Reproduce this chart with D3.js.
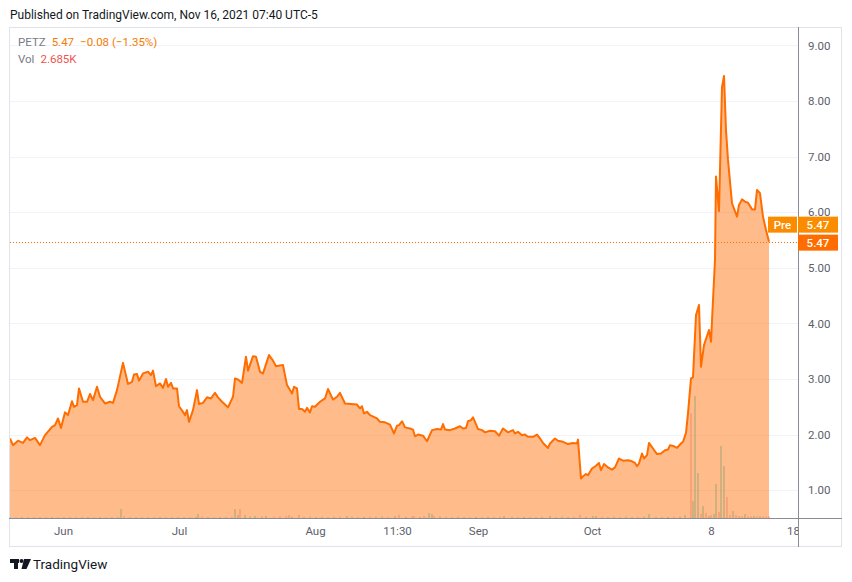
<!DOCTYPE html>
<html>
<head>
<meta charset="utf-8">
<script src="https://cdn.jsdelivr.net/npm/d3@7"></script>
<style>
  html, body { margin: 0; padding: 0; background: #fff; }
  svg { display: block; font-family: Roboto, "Noto Sans", sans-serif; }
</style>
</head>
<body>
<svg width="852" height="582"></svg>
<script>
// bar position (TradingView compresses gaps, so x is a bar index) and close price
const priceIdx = [
  0, 1.5, 4, 6.5, 8.5, 10, 12.5, 15, 17.5, 21,
  22.5, 24, 25.5, 27.5, 29, 31, 32, 33.5, 34.5, 36.5,
  38.5, 40, 41.5, 43.5, 45, 47.5, 50, 51.5, 53.5, 56.5,
  59, 61, 62, 63.5, 64.5, 66.5, 69, 70.5, 71.5, 73,
  75, 76.5, 78, 79, 80.5, 81.5, 83.5, 84.5, 86.5, 87.5,
  88.5, 89.5, 91.5, 93.5, 94.5, 96.5, 98.5, 100.5, 102.5, 104,
  106, 109, 111.5, 112.5, 114, 116, 118, 119, 121.5, 123,
  125, 126.5, 129.5, 131.5, 133, 136.5, 138.5, 140, 141, 142,
  143.5, 144.5, 146, 147.5, 148.5, 150, 151, 152.5, 155, 157.5,
  159, 161.5, 163.5, 165, 167.5, 173.5, 175, 176, 177, 178.5,
  180, 183.5, 185, 187.5, 190, 192, 193.5, 194.5, 196, 197.5,
  200, 201.5, 202.5, 204, 206.5, 208.5, 211, 213.5, 215.5, 216.5,
  217.5, 220, 222.5, 225, 226.5, 228, 229, 230.5, 231.5, 232.5,
  234, 236, 237.5, 240, 242.5, 244.5, 246.5, 249, 251.5, 252.5,
  254, 256, 257.5, 259, 261.5, 263.5, 265, 266.5, 269, 270,
  272.5, 274, 276.5, 279, 281.5, 283.5, 284, 285.5, 286.5, 288,
  289, 291, 293, 294.5, 295.5, 297, 299, 301, 302.5, 304.5,
  306.5, 309, 311, 312.5, 313.5, 314.5, 316, 317, 318.5, 319.5,
  321.5, 323.5, 325.5, 327.5, 329, 330, 332, 333.5, 335.5, 336.5,
  338, 339, 340.5, 341.5, 343, 344.5, 345.5, 347, 349.5, 350.5,
  351.5, 352.5, 353, 354.5, 356, 357, 358, 359, 361, 363.5,
  364.5, 366, 367.5, 369, 371, 372.5, 373.5, 375, 376.5, 378,
  379.5
];
const prices = [
  1.93, 1.81, 1.89, 1.85, 1.95, 1.90, 1.94, 1.81, 1.99, 2.14,
  2.17, 2.29, 2.12, 2.40, 2.35, 2.60, 2.50, 2.53, 2.83, 2.59,
  2.59, 2.73, 2.62, 2.86, 2.68, 2.56, 2.59, 2.57, 2.80, 3.29,
  2.91, 2.95, 3.08, 3.09, 2.97, 3.10, 3.13, 3.07, 3.15, 2.87,
  2.92, 2.84, 3.00, 2.86, 2.93, 2.83, 2.83, 2.51, 2.41, 2.35,
  2.44, 2.23, 2.44, 2.80, 2.55, 2.57, 2.67, 2.65, 2.75, 2.67,
  2.59, 2.49, 2.68, 3.01, 2.99, 2.93, 3.40, 3.15, 3.41, 3.40,
  3.13, 3.10, 3.43, 3.33, 3.23, 3.25, 2.89, 2.80, 2.74, 2.86,
  2.83, 2.46, 2.46, 2.41, 2.48, 2.40, 2.51, 2.50, 2.59, 2.65,
  2.82, 2.63, 2.68, 2.75, 2.56, 2.54, 2.47, 2.51, 2.38, 2.41,
  2.35, 2.29, 2.23, 2.22, 2.18, 2.02, 2.16, 2.17, 2.24, 2.13,
  2.11, 2.09, 1.97, 2.00, 1.98, 1.88, 2.08, 2.10, 2.09, 2.19,
  2.09, 2.08, 2.11, 2.15, 2.11, 2.12, 2.24, 2.26, 2.31, 2.23,
  2.10, 2.08, 2.04, 2.07, 2.06, 1.98, 2.11, 2.04, 2.08, 2.02,
  2.05, 1.99, 2.00, 1.96, 1.96, 2.00, 1.93, 1.85, 1.76, 1.84,
  1.93, 1.89, 1.87, 1.83, 1.85, 1.84, 1.91, 1.21, 1.25, 1.29,
  1.27, 1.39, 1.44, 1.49, 1.36, 1.47, 1.41, 1.37, 1.41, 1.57,
  1.53, 1.54, 1.52, 1.49, 1.43, 1.48, 1.66, 1.57, 1.63, 1.85,
  1.75, 1.65, 1.66, 1.72, 1.73, 1.81, 1.79, 1.76, 1.84, 1.87,
  2.03, 2.38, 3.01, 3.03, 4.15, 4.33, 3.22, 3.61, 3.88, 3.67,
  4.42, 5.14, 6.64, 6.02, 8.25, 8.45, 7.47, 6.94, 6.16, 5.92,
  6.13, 6.23, 6.19, 6.17, 6.05, 6.05, 6.40, 6.34, 5.92, 5.68,
  5.47
];

// volume bars (millions), u = up bar, d = down bar
const volIdx = [
  0, 3, 6, 9, 12, 15, 18, 21, 24, 27,
  30, 33, 36, 39, 42, 45, 48, 51, 54, 55.5,
  57, 60, 63, 66, 69, 72, 75, 78, 81, 84,
  87, 90, 93, 94, 96, 99, 102, 105, 108, 111,
  112.5, 114, 115, 117.5, 120, 122.5, 126, 128, 132, 135,
  138, 139.5, 141, 144.5, 147, 150, 153, 156, 159, 162,
  165, 168.5, 171, 174, 177, 180, 183, 186, 189, 192.5,
  194.5, 198, 201, 202, 205, 207, 209.5, 211, 212, 215,
  218, 221, 224, 227, 230, 233, 236, 239, 242, 245,
  247, 251, 254, 257, 260, 263, 266, 270, 273, 276,
  279, 282, 285, 288, 291.5, 293, 296, 299, 302, 305,
  308, 311, 314, 317, 319.5, 323, 326, 329, 332, 335,
  337.5, 340.5, 341.5, 342.5, 344, 345.5, 346.5, 348, 349.5, 350.5,
  352, 353, 354.5, 355.5, 357, 358.5, 360, 361.5, 363, 364.5,
  366, 367.5, 369, 370.5, 372, 373.5, 375, 376.5, 378, 379.5
];
const volVal = [
  0.5, 0.4, 0.5, 0.4, 0.5, 0.4, 0.5, 0.5, 0.4, 0.5,
  0.5, 0.4, 0.5, 0.5, 0.4, 0.5, 0.4, 0.5, 0.5, 4.5,
  0.8, 0.5, 0.4, 0.5, 0.4, 0.5, 0.5, 0.4, 0.5, 0.5,
  0.4, 0.5, 0.5, 2, 0.7, 0.5, 0.4, 0.5, 0.5, 0.6,
  4.5, 1.5, 4.5, 1.5, 0.8, 1, 0.8, 1, 0.6, 0.8,
  1, 1.5, 0.7, 1.5, 0.6, 0.8, 0.5, 0.6, 0.5, 0.6,
  0.7, 1, 0.6, 0.5, 0.6, 0.7, 0.6, 0.8, 0.6, 1,
  1.5, 0.6, 0.8, 1, 0.6, 1, 2.5, 2, 1, 0.8,
  0.6, 0.5, 0.6, 0.5, 0.5, 0.6, 0.5, 0.6, 0.5, 0.6,
  1, 0.6, 0.5, 0.6, 0.5, 0.5, 0.6, 1, 0.5, 0.6,
  0.5, 0.6, 1.5, 0.7, 1, 1, 0.6, 0.5, 0.6, 0.5,
  0.6, 0.5, 0.6, 0.7, 2, 0.6, 0.5, 0.6, 0.7, 0.8,
  1.5, 52.4, 8.5, 61, 22.5, 2, 6, 2.5, 1, 1.5,
  2, 17, 3, 36, 26, 10.5, 1.5, 3.5, 1.5, 1,
  0.8, 2, 0.8, 0.8, 1, 0.8, 0.8, 0.8, 0.8, 0.8
];
const volSide = [
  "u","d","u","u","d","u","d","u","u","d",
  "u","d","u","u","d","u","u","d","u","u",
  "d","u","u","d","u","d","u","u","d","u",
  "u","d","u","u","d","u","d","u","u","d",
  "u","u","d","u","u","u","d","u","d","d",
  "d","d","u","d","u","d","u","u","d","u",
  "d","u","u","d","u","d","u","u","d","u",
  "d","u","d","d","u","d","u","u","d","u",
  "u","d","u","u","d","u","d","u","u","d",
  "u","u","d","u","u","d","u","u","d","u",
  "u","d","d","u","u","u","d","u","u","d",
  "u","u","d","u","u","d","u","u","d","u",
  "u","d","u","u","u","d","u","d","u","d",
  "u","u","d","u","u","d","d","u","d","d",
  "u","u","d","d","u","d","u","d","d","d"
];

const yTicks = [1, 2, 3, 4, 5, 6, 7, 8, 9];
const xTickIdx = [26.5, 84.5, 152.5, 193.5, 234, 291, 350.5, 391.5];
const xTickLabels = ["Jun", "Jul", "Aug", "11:30", "Sep", "Oct", "8", "18"];
const lastPrice = 5.47;

const svg = d3.select("svg");
const plotL = 10, plotR = 798, plotT = 27, plotB = 518;

const x = d3.scaleLinear().domain([0, 394]).range([plotL, plotR]);
const y = d3.scaleLinear().domain([0.5, 9.33]).range([plotB, plotT]);
const yVol = d3.scaleLinear().domain([0, 61]).range([plotB, plotB - 122]);

const points = priceIdx.map((d, i) => ({ i: d, p: prices[i] }));
const vols = volIdx.map((d, i) => ({ i: d, v: volVal[i], s: volSide[i] }));

// header
svg.append("text")
  .attr("x", 10).attr("y", 19)
  .attr("font-size", 12).attr("fill", "#131722")
  .text("Published on TradingView.com, Nov 16, 2021 07:40 UTC-5");

// outer frame
svg.append("rect")
  .attr("x", 9.5).attr("y", 27.5)
  .attr("width", 832).attr("height", 519)
  .attr("fill", "none").attr("stroke", "#e0e3eb");

const defs = svg.append("defs");
defs.append("clipPath").attr("id", "plot")
  .append("rect").attr("x", plotL).attr("y", plotT)
  .attr("width", plotR - plotL).attr("height", plotB - plotT);
// local coordinates of the translated x-axis group
defs.append("clipPath").attr("id", "xlab")
  .append("rect").attr("x", 0).attr("y", 0).attr("width", plotR).attr("height", 28);

// grid
svg.append("g").selectAll("line")
  .data(yTicks).enter().append("line")
  .attr("x1", plotL).attr("x2", plotR)
  .attr("y1", d => Math.round(y(d)) + 0.5).attr("y2", d => Math.round(y(d)) + 0.5)
  .attr("stroke", "#f0f3fa");

const plot = svg.append("g").attr("clip-path", "url(#plot)");

const area = d3.area()
  .x(d => x(d.i))
  .y0(plotB)
  .y1(d => y(d.p));

plot.append("path")
  .datum(points)
  .attr("d", area)
  .attr("fill", "rgba(255,109,0,0.46)");

plot.selectAll("rect.vol")
  .data(vols).enter().append("rect")
  .attr("class", "vol")
  .attr("x", d => x(d.i) - 0.6)
  .attr("width", 1.2)
  .attr("y", d => yVol(d.v))
  .attr("height", d => plotB - yVol(d.v))
  .attr("fill", d => d.s === "u" ? "#b3a97a" : "#f5936b");

const line = d3.line()
  .x(d => x(d.i))
  .y(d => y(d.p));

plot.append("path")
  .datum(points)
  .attr("d", line)
  .attr("fill", "none")
  .attr("stroke", "#ff6d00")
  .attr("stroke-width", 2)
  .attr("stroke-linejoin", "round");

// last price dotted line
plot.append("line")
  .attr("x1", plotL).attr("x2", plotR)
  .attr("y1", Math.round(y(lastPrice)) + 0.5).attr("y2", Math.round(y(lastPrice)) + 0.5)
  .attr("stroke", "#ff6d00")
  .attr("stroke-dasharray", "1,2");

// axes lines
svg.append("line")
  .attr("x1", plotR + 0.5).attr("x2", plotR + 0.5)
  .attr("y1", plotT).attr("y2", 547)
  .attr("stroke", "#8a8d96");
svg.append("line")
  .attr("x1", 9).attr("x2", 842)
  .attr("y1", plotB + 0.5).attr("y2", plotB + 0.5)
  .attr("stroke", "#8a8d96");

// y axis
const yAxis = svg.append("g")
  .attr("transform", `translate(${plotR},0)`)
  .call(d3.axisRight(y).tickValues(yTicks).tickSize(0).tickPadding(10)
    .tickFormat(d => d.toFixed(2)));
yAxis.select(".domain").remove();
yAxis.selectAll("text")
  .attr("font-size", 11.5).attr("fill", "#5d606b")
  .attr("font-family", "Roboto, 'Noto Sans', sans-serif");

// x axis
const xAxis = svg.append("g")
  .attr("transform", `translate(0,${plotB})`)
  .attr("clip-path", "url(#xlab)")
  .call(d3.axisBottom(x).tickValues(xTickIdx).tickSize(0).tickPadding(9)
    .tickFormat((d, i) => xTickLabels[i]));
xAxis.select(".domain").remove();
xAxis.selectAll("text")
  .attr("font-size", 11.5).attr("fill", "#5d606b")
  .attr("font-family", "Roboto, 'Noto Sans', sans-serif");

// price labels on the axis
const yLast = y(lastPrice);
const labels = svg.append("g").attr("font-size", 11.5).attr("font-weight", 500);
labels.append("rect")
  .attr("x", 768).attr("y", yLast - 25).attr("width", 29).attr("height", 16)
  .attr("fill", "#fb8c00");
labels.append("text")
  .attr("x", 782.5).attr("y", yLast - 13).attr("text-anchor", "middle")
  .attr("fill", "#fff").text("Pre");
labels.append("rect")
  .attr("x", 798).attr("y", yLast - 25).attr("width", 40).attr("height", 16)
  .attr("fill", "#fb8c00");
labels.append("text")
  .attr("x", 818).attr("y", yLast - 13).attr("text-anchor", "middle")
  .attr("fill", "#fff").text(lastPrice.toFixed(2));
labels.append("rect")
  .attr("x", 798).attr("y", yLast - 7).attr("width", 40).attr("height", 16)
  .attr("fill", "#ff6d00");
labels.append("text")
  .attr("x", 818).attr("y", yLast + 5).attr("text-anchor", "middle")
  .attr("fill", "#fff").text(lastPrice.toFixed(2));

// legend
const leg = svg.append("g").attr("font-size", 11.5);
const l1 = leg.append("text").attr("x", 18).attr("y", 46);
l1.append("tspan").attr("fill", "#787b86").text("PETZ");
l1.append("tspan").attr("dx", 6).attr("fill", "#f57c00").text("5.47");
l1.append("tspan").attr("dx", 6).attr("fill", "#f57c00").text("\u22120.08 (\u22121.35%)");
const l2 = leg.append("text").attr("x", 18).attr("y", 63);
l2.append("tspan").attr("fill", "#787b86").text("Vol");
l2.append("tspan").attr("dx", 6).attr("fill", "#ef5350").text("2.685K");

// footer logo
const logo = svg.append("g").attr("fill", "#131722");
logo.append("rect").attr("x", 10).attr("y", 559).attr("width", 9).attr("height", 4);
logo.append("rect").attr("x", 14).attr("y", 559).attr("width", 4).attr("height", 10);
logo.append("circle").attr("cx", 21.5).attr("cy", 561).attr("r", 2);
logo.append("path").attr("d", "M24,559 L31,559 L26.5,569 L21.5,569 Z");
svg.append("text")
  .attr("x", 33).attr("y", 569)
  .attr("font-size", 13.5).attr("fill", "#131722")
  .text("TradingView");
</script>
</body>
</html>
